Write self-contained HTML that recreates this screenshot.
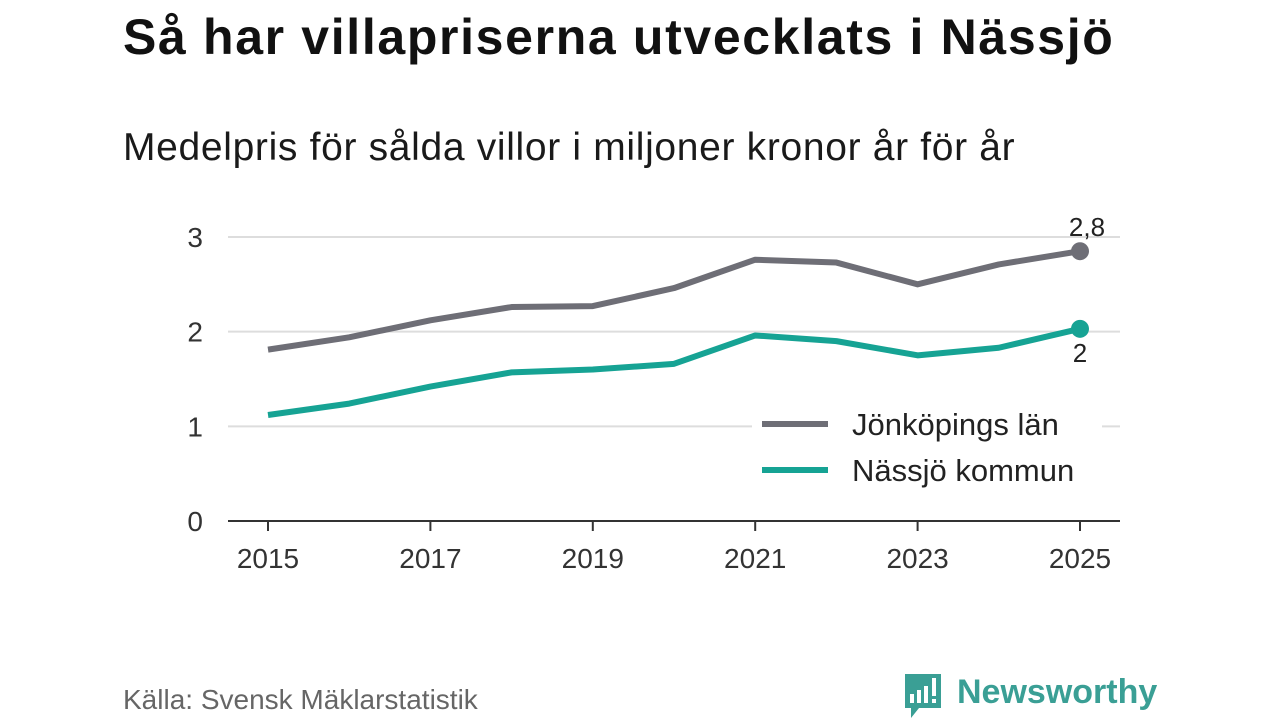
<!DOCTYPE html>
<html><head><meta charset="utf-8"><style>
body{margin:0;width:1280px;height:720px;background:#fff;font-family:"Liberation Sans","DejaVu Sans",sans-serif;position:relative;overflow:hidden;color:#111}
h1{position:absolute;left:123px;top:8px;margin:0;font-size:50px;font-weight:bold;color:#111;letter-spacing:1.65px;white-space:nowrap}
.sub{position:absolute;left:123px;top:126px;font-size:39px;color:#1a1a1a;white-space:nowrap;letter-spacing:0.67px}
.src{position:absolute;left:123px;top:684px;font-size:28px;color:#666}
.logo{position:absolute;left:903px;top:672px}
svg text{font-family:"Liberation Sans","DejaVu Sans",sans-serif}
</style></head><body>
<h1>Så har villapriserna utvecklats i Nässjö</h1>
<div class="sub">Medelpris för sålda villor i miljoner kronor år för år</div>
<svg id="chart" width="1280" height="720" style="position:absolute;left:0;top:0"></svg>
<div class="src">Källa: Svensk Mäklarstatistik</div>
<svg class="logo" width="260" height="48">
<path d="M2 2h36v34H16l-8 10v-10H2z" fill="#3a9f95"/>
<rect x="7" y="22" width="4" height="9" fill="#fff"/><rect x="14" y="18" width="4" height="13" fill="#fff"/><rect x="21" y="14" width="4" height="17" fill="#fff"/><rect x="29" y="6" width="4" height="18" fill="#fff"/><rect x="29" y="27" width="4" height="4" fill="#fff"/>
<text x="54" y="31" font-size="34" font-weight="bold" fill="#3a9f95">Newsworthy</text>
</svg>
<script>
const years=[2015,2016,2017,2018,2019,2020,2021,2022,2023,2024,2025];
const jonkoping=[1.81,1.94,2.12,2.26,2.27,2.46,2.76,2.73,2.50,2.71,2.85];
const nassjo=[1.12,1.24,1.42,1.57,1.60,1.66,1.96,1.90,1.75,1.83,2.03];
const yTicks=[0,1,2,3];
const xTicks=[2015,2017,2019,2021,2023,2025];
const svg=document.getElementById('chart');
const NS='http://www.w3.org/2000/svg';
const x=v=>268+(v-2015)*81.2;
const y=v=>521-v*94.67;
function mk(t,a){const e=document.createElementNS(NS,t);for(const k in a)e.setAttribute(k,a[k]);svg.appendChild(e);return e;}
yTicks.forEach(t=>{
 if(t>0){const g=mk('line',{x1:228,x2:1120,y1:y(t),y2:y(t),stroke:'#ddd','stroke-width':2});
 
 }
 const l=mk('text',{x:203,y:y(t)+10,'font-size':28,'text-anchor':'end',fill:'#333'});l.textContent=t;
 
 
});
const ax=mk('line',{x1:228,x2:1120,y1:521,y2:521,stroke:'#333','stroke-width':2});


xTicks.forEach(t=>{
 mk('line',{x1:x(t),x2:x(t),y1:521,y2:531,stroke:'#333','stroke-width':2});
 const l=mk('text',{x:x(t),y:568,'font-size':28,'text-anchor':'middle',fill:'#333'});l.textContent=t;
 
 
});
function series(vals,color,name){
 const p=mk('polyline',{points:vals.map((v,i)=>x(years[i])+','+y(v)).join(' '),fill:'none',stroke:color,'stroke-width':6,'stroke-linejoin':'round'});
 
 
 const n=vals.length-1;
 const c=mk('circle',{cx:x(years[n]),cy:y(vals[n]),r:9,fill:color});
 
 
}
series(jonkoping,'#6e6e76','jonkoping');
series(nassjo,'#16a394','nassjo');
const l1=mk('text',{x:1087,y:y(jonkoping[10])-15,'font-size':26,'text-anchor':'middle',fill:'#222'});l1.textContent='2,8';


const l2=mk('text',{x:1080,y:y(nassjo[10])+33,'font-size':26,'text-anchor':'middle',fill:'#222'});l2.textContent='2';


mk('rect',{x:752,y:398,width:350,height:100,fill:'#fff'});
[['Jönköpings län','#6e6e76',424],['Nässjö kommun','#16a394',470]].forEach(([t,c,yy])=>{
 const ln=mk('line',{x1:762,x2:828,y1:yy,y2:yy,stroke:c,'stroke-width':6});
 
 
 const tx=mk('text',{x:852,y:yy+11,'font-size':31,fill:'#222'});tx.textContent=t;
 
 
});
</script>
</body></html>
